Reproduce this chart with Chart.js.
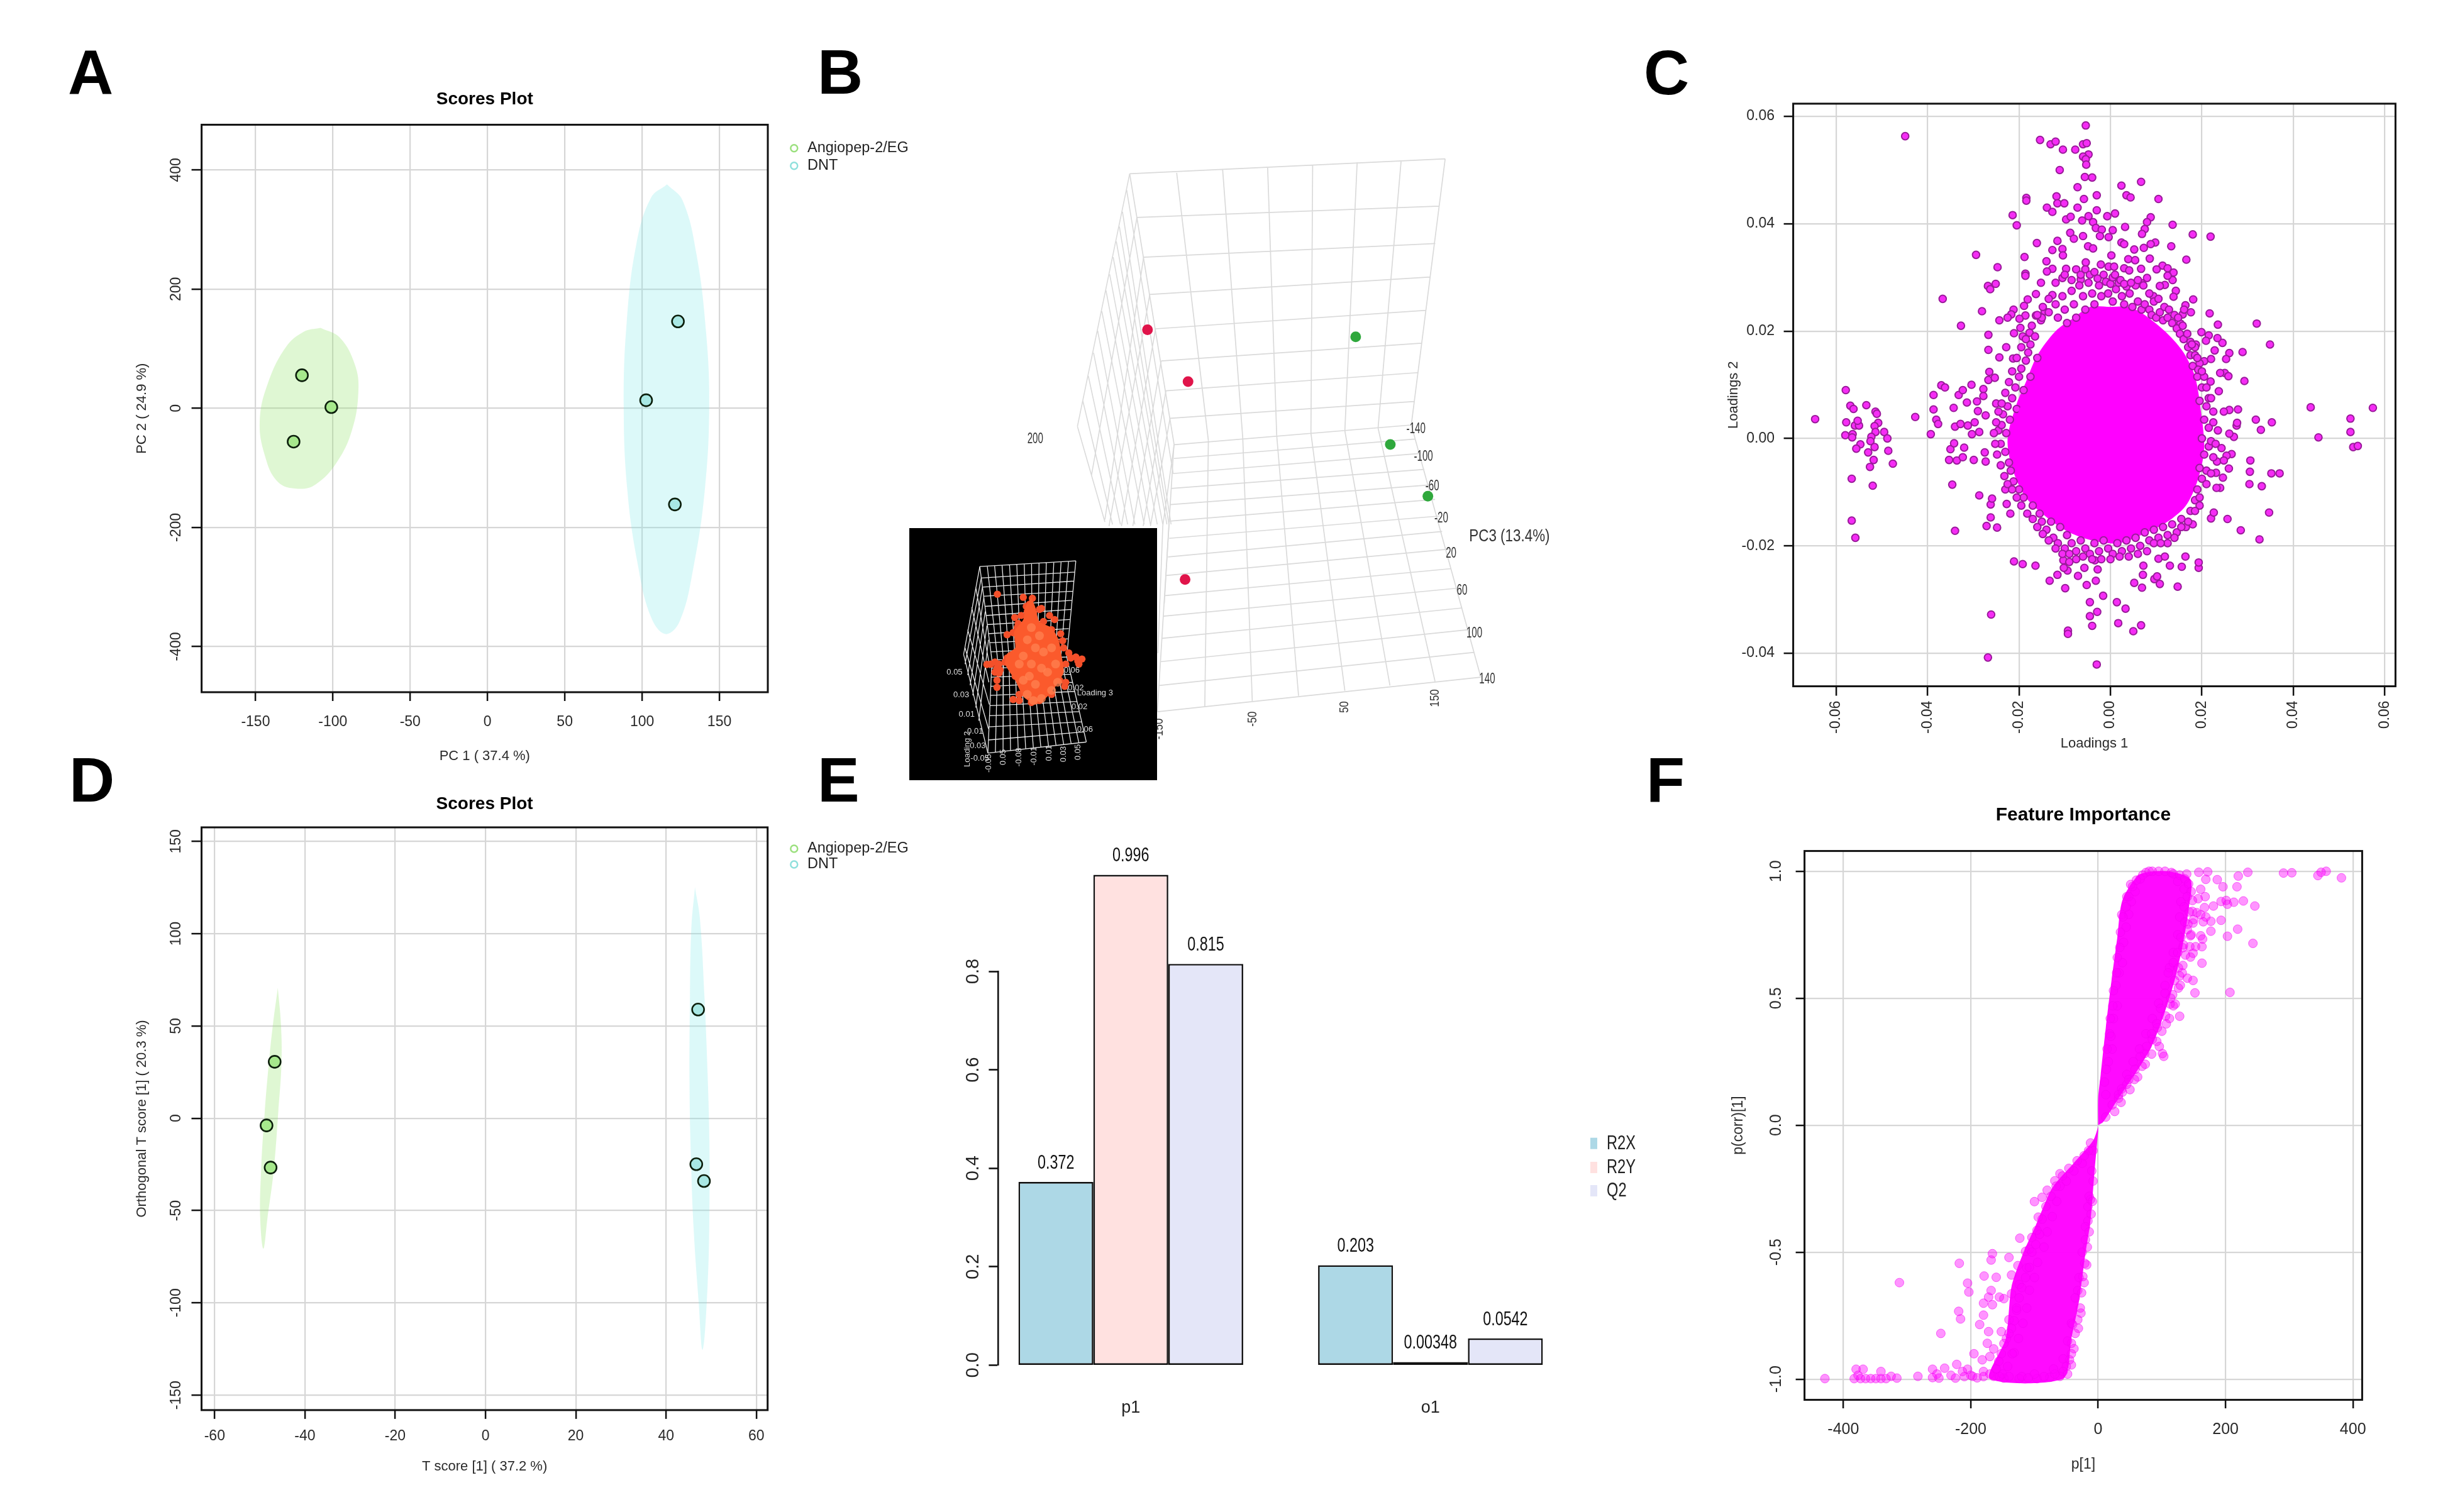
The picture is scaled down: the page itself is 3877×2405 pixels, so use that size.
<!DOCTYPE html>
<html><head><meta charset="utf-8"><title>Panels</title>
<script src="https://cdn.jsdelivr.net/npm/chart.js@4"></script>
<style>
html,body{margin:0;padding:0;background:#fff}
#page{position:relative;width:3877px;height:2405px;overflow:hidden;background:#fff}
canvas{position:absolute}
.letter{position:absolute;font:bold 100px/100px "Liberation Sans",Arial,sans-serif;color:#000}
</style></head><body><div id="page"></div>
<script>
/* ---------- panel A / D : scores ---------- */
const groupNames=['Angiopep-2/EG','DNT'];
const scoresA_green=[[-120,55.4],[-101,2],[-125.4,-56]];
const scoresA_blue=[[123.2,145.8],[102.6,13.5],[121.2,-161.4]];
const regionA_green=[[-108,135.1],[-95.5,118.7],[-85.8,73.5],[-83.5,28.3],[-87.7,-37.4],[-97.5,-90.8],[-111.1,-127.7],[-122.7,-135.1],[-135.6,-123.6],[-144.1,-78.4],[-147.3,-20.9],[-142.2,40.7],[-130.5,102.3],[-118.9,128.5],[-108,135.1]];
const regionA_blue=[[116.1,375.8],[126.2,348.7],[135.2,258.3],[141.4,126.9],[143.4,3.7],[140.6,-135.9],[133.2,-267.4],[124.3,-357.7],[115,-379],[105.6,-349.5],[97,-259.1],[90.4,-135.9],[88.1,3.7],[90,143.3],[96.2,274.7],[105.6,352.8],[116.1,375.8]];
const scoresD_green=[[-46.7,30.6],[-48.5,-3.9],[-47.6,-26.7]];
const scoresD_blue=[[47.1,58.9],[46.7,-24.9],[48.4,-34]];
const regionD_green=[[-46,70.7],[-45.3,50.5],[-45.2,29.6],[-45.9,3.4],[-46.9,-28],[-48.3,-54.2],[-49.2,-70.7],[-49.9,-54.2],[-49.7,-28],[-48.9,3.4],[-48,29.6],[-47.1,50.5],[-46,70.7]];
const regionD_blue=[[46.4,125.1],[47.5,108.1],[48.5,66.2],[49.2,24.3],[49.6,-12.3],[49.6,-51.6],[49.2,-90.8],[48.1,-125.4],[47.2,-98.7],[46.1,-59.4],[45.5,-20.2],[45.2,19.1],[45.3,66.2],[45.6,102.9],[46.4,125.1]];

/* ---------- panel E : model summary ---------- */
const componentNames=['p1','o1'];
const metricNames=['R2X','R2Y','Q2'];
const r2x=[0.372,0.203];
const r2y=[0.996,0.00348];
const q2=[0.815,0.0542];
const valueLabels=[['0.372','0.203'],['0.996','0.00348'],['0.815','0.0542']];

/* ---------- panel C : loadings ---------- */
const loadingsCore=[[.0002,.0215],[.0069,.0205],[.0125,.016],[.0164,.0117],[.0187,.0041],[.0187,-.0026],[.0164,-.0085],[.0125,-.0132],[.0069,-.0161],[.0002,-.0178],[-.0066,-.017],[-.0133,-.0132],[-.0178,-.0102],[-.0206,-.0043],[-.0211,.0016],[-.0189,.0075],[-.0155,.0116],[-.011,.0165],[-.0066,.0195],[.0002,.0215]];
const loadingsBand=[[0,.0245],[.004,.0245],[.0075,.023],[.0125,.0195],[.016,.016],[.0185,.0115],[.0198,.005],[.0205,-.002],[.019,-.008],[.0165,-.0125],[.0125,-.0155],[.008,-.0175],[.002,-.0195],[-.004,-.019],[-.009,-.0175],[-.0135,-.015],[-.0185,-.011],[-.0215,-.0055],[-.0225,0],[-.0205,.0065],[-.0185,.0105],[-.016,.0155],[-.012,.02],[-.008,.0225],[-.0045,.0245],[0,.0245]];
const loadingsLeft=[[-.0646,.0036],[-.0579,.009],[-.0569,.0061],[-.0562,.0055],[-.0578,.003],[-.058,.0006],[-.0564,.0008],[-.0565,.0002],[-.0559,.0024],[-.055,.0024],[-.0553,.0033],[-.0534,.0062],[-.0514,.005],[-.0511,.0046],[-.0508,.0029],[-.0516,.0023],[-.0514,.0012],[-.0523,.0003],[-.0495,.0012],[-.0488,0],[-.0525,-.0005],[-.0516,-.0016],[-.0547,-.0011],[-.0556,-.0019],[-.053,-.0026],[-.0486,-.0023],[-.0518,-.004],[-.0476,-.0047],[-.0526,-.0053],[-.0566,-.0075],[-.052,-.0088],[-.0566,-.0153],[-.0558,-.0185],[-.0449,.0563],[-.0427,.004],
[-.0393,.0008],[-.0387,.0081],[-.0387,.0054],[-.0381,.0035],[-.0377,.0027],[-.037,.0099],[-.0362,.0095],[-.0343,.0057],[-.034,.0022],[-.035,-.002],[-.0342,-.0009],[-.0353,-.004],[-.0336,-.0041],[-.0346,-.0086],[-.034,-.0172],[-.0332,.0081],[-.0323,.009],[-.0328,.0027],[-.0314,.0067],[-.0312,.0024],[-.032,-.0017],[-.0323,-.0035],[-.0304,.01],[-.0297,.003],[-.0303,.0008],[-.0292,.0069],[-.029,.0051],[-.0299,-.004],[-.0287,-.0106],[-.0278,.0092],[-.0278,.0079],[-.0273,.0043],[-.0287,.0012],[-.0275,-.0026],[-.0273,-.0043],[-.0267,.0109],[-.0265,.0124],[-.0267,.0165],[-.0267,.0193],[-.0281,.0237],[-.0367,.026],[-.0327,.021],[-.0294,.0342],[-.0247,.0319],[-.0268,.0284],[-.0263,.0278],[-.0251,.0288],[-.0243,.022],[-.0228,.017],[-.0243,.0151],[-.0253,.0113],[-.025,.0065],[-.0213,.0149],[-.0262,-.0147],[-.0271,-.0163],[-.0248,-.0166],[-.0262,-.0123],[-.0259,-.0112],[-.0261,-.0328],[-.0268,-.0408],[-.0227,-.0122],[-.0219,-.014],[-.023,-.0095]];
const loadingsBottom=[[-.0211,-.0229],[-.0192,-.0234],[-.0164,-.0237],[-.0133,-.0265],[-.0116,-.0254],[-.0099,-.0279],[-.0093,-.0358],[-.0093,-.0364],[-.003,-.0421],[-.0045,-.0305],[-.0045,-.0331],[-.0029,-.0323],[-.004,-.0349],[-.0016,-.0293],[.0014,-.0305],[.0033,-.0317],[.0017,-.0344],[.005,-.0359],[.0067,-.0348],[-.0071,-.0256],[-.0052,-.0273],[-.0032,-.0265],[-.0057,-.0241],[-.0034,-.0227],[-.0028,-.0244],[-.0094,-.0246],[-.0103,-.0227],[-.009,-.023],[-.0102,-.0241],[.0052,-.0269],[.0069,-.0278],[.0071,-.0254],[.0096,-.0262],[.0108,-.0271],[.0102,-.0257],[.0147,-.0276],[.0072,-.0237],[.013,-.0237],[.0105,-.0224],[.0119,-.022],[.0156,-.0239],[.0164,-.022],[.0193,-.0241],[.0193,-.0231]];
const loadingsRight=[[.022,-.0149],[.0226,-.0138],[.0256,-.015],[.0285,-.0171],[.0326,-.0188],[.0347,-.0138],[.0304,-.0085],[.0331,-.0089],[.0352,-.0065],[.037,-.0065],[.0305,-.0062],[.0306,-.0041],[.0265,-.0029],[.0254,-.0032],[.0259,-.0056],[.0246,-.0073],[.0231,-.0064],[.024,-.0092],[.0232,-.0092],[.0233,-.0043],[.0248,-.0041],[.0243,-.0018],[.027,.0003],[.026,.0009],[.0276,.0024],[.0277,.0029],[.0318,.0035],[.0329,.0016],[.0353,.003],[.0279,.0054],[.026,.0053],[.0248,.005],[.0293,.0107],[.0289,.0161],[.026,.0159],[.0253,.0148],[.0349,.0175],[.032,.0214],[.025,.0122],[.024,.0122],[.0258,.0116],[.0237,.0088],[.0245,.0178],[.0234,.0187],[.0228,.0164],[.0235,.0212],[.0217,.0233],[.0215,.0192],[.0199,.0198],[.0209,.0182],[.0205,.0144],[.022,.0148],[.0219,.0106],[.0438,.0058],[.0455,.0002],[.0525,.0037],[.0525,.0012],[.0531,-.0016],[.0541,-.0014],[.0574,.0057]];
const loadingsTop=[[-.0054,.0583],[-.0154,.0556],[-.0131,.0548],[-.012,.0553],[-.0104,.0538],[-.0077,.0538],[-.006,.0548],[-.0052,.055],[-.0048,.0529],[-.006,.0525],[-.0054,.052],[-.0053,.051],[-.0111,.05],[-.0056,.0487],[-.004,.0486],[-.0072,.0468],[.0024,.0471],[.0067,.0478],[.0035,.0453],[.0044,.0449],[-.003,.0453],[-.0058,.0446],[-.0118,.0451],[.0105,.0446],[-.0184,.0448],[-.0184,.0443],[-.0116,.0438],[-.0101,.0438],[-.0139,.043],[-.0127,.0422],[-.0072,.043],[-.003,.0425],[-.0007,.0414],[.001,.0419],[.0088,.0412],[.008,.0403],[-.0214,.0416],[-.0205,.0397],[-.0097,.0408],[-.0087,.0413],[-.0062,.0406],[-.0048,.0414],[-.0038,.0403],[.0136,.0398],[.0032,.0394],[-.0032,.0392],[-.0019,.0389],[.0005,.0388],[.0075,.039],[.0069,.0381],[.018,.038],[.0219,.0376],[-.0023,.0377],[-.0004,.0375],[-.006,.0377],[-.0088,.0383],[-.0116,.0368],[-.008,.0372],[.0024,.0365],[.003,.0362],[-.0161,.0364],[.0098,.0365],[.0088,.0362],[.0073,.0355],[.0133,.0358],[.0052,.0352],[-.0049,.0358],[-.0127,.0351],[-.0105,.0353],[-.0038,.0354],[-.0188,.0338],[-.014,.033],[-.0104,.0341],[.0002,.0341],[.0086,.0335],[.0166,.0333],[.0039,.0334],[.0054,.0332],[-.0054,.0328],[-.0021,.0324],[-.0004,.032],[.0008,.032],[.0114,.0322],[.0125,.0317],[.003,.0317],[.0041,.0313],[.0067,.0316],[.0101,.0315],[-.0097,.0316],[-.0127,.0316],[-.0139,.0311],[-.0186,.0307],[-.0186,.0303],[.0138,.0309],[.0136,.0295],[.0125,.0303],[.0119,.0286],[.0108,.0284],[.0143,.0275],[.0138,.0264],[-.0152,.029],[-.0105,.0299],[-.0065,.0296],[-.0163,.0269],[.008,.0299],[.0069,.0289],[.0181,.0259],[-.0127,.0267],[.0094,.0265],[-.0181,.0259],[-.0189,.0247],[-.0212,.024],[-.0217,.0231],[-.0225,.0225],[-.0186,.0229],[-.0163,.0229],[-.0199,.0223],[-.0152,.022],[-.0144,.0237],[-.0197,.0206],[-.0211,.0196],[-.0192,.019],[-.0177,.0197],[.0164,.0248],[.0158,.0231],[.0176,.0235],[.0161,.024],[.0153,.0214],[.0175,.018],[.0187,.0175]];
const loadingsRim=[[-.015,.0225],[-.0135,.0235],[-.012,.025],[-.0115,.0225],[-.0105,.0265],[-.01,.024],[-.0095,.0215],[-.0085,.0275],[-.008,.025],[-.0075,.0225],[-.0068,.0285],[-.006,.0265],[-.0055,.024],[-.0048,.029],[-.004,.027],[-.0035,.025],[-.0025,.0285],[-.002,.0265],[-.001,.0292],[-.0005,.027],[0,.0288],[.0005,.0255],[.0012,.0278],[.0018,.029],[.0025,.0265],[.003,.025],[.0035,.0283],[.0042,.027],[.0048,.0245],[.0055,.0285],[.006,.0255],[.0068,.024],[.0075,.025],[.0085,.024],[.009,.023],[.01,.0225],[.0108,.0235],[.0115,.022],[.0125,.0225],[.0135,.0215],[.0145,.0205],[.0152,.0195],[.016,.0185],[.017,.017],
[-.0245,.0015],[-.024,-.001],[-.0238,.0025],[-.0235,.0045],[-.023,-.0025],[-.0228,.001],[-.0225,.006],[-.0222,-.0045],[-.022,.0035],[-.0218,-.006],[-.0215,.0075],[-.0212,-.008],[-.0208,.0095],[-.0205,.0055],[-.02,-.0095],[-.02,.0115],[-.0195,.013],[-.019,.009],[-.019,-.011],[-.0185,.0145],[-.018,.016],[-.0175,.0115],[-.0175,.0175],[-.017,-.0125],[-.0165,.019],[-.016,.015],[-.0155,-.014],
[-.015,-.0155],[-.014,-.017],[-.013,-.0155],[-.0125,-.0185],[-.0115,-.0195],[-.011,-.0165],[-.01,-.0205],[-.0095,-.018],[-.0085,-.0195],[-.0075,-.021],[-.0065,-.019],[-.0055,-.0205],[-.0045,-.0215],[-.0035,-.0195],[-.0025,-.021],[-.0015,-.019],[-.0005,-.0205],[.0005,-.0215],[.0015,-.0195],[.0025,-.021],[.0035,-.019],[.0045,-.0205],[.0055,-.0185],[.0065,-.02],[.0075,-.0175],[.0085,-.019],[.0095,-.017],[.0105,-.0185],[.0115,-.0165],[.0125,-.0195],[.0135,-.016],[.0145,-.0175],[.0155,-.015],[.0165,-.0165],[.0175,-.0135],[.018,-.016],[.0185,-.0115],[.0195,-.0125],
[.019,-.0095],[.02,-.0075],[.0195,-.0055],[.021,-.006],[.0205,-.003],[.0215,-.0015],[.02,0],[.022,-.0005],[.0215,.002],[.0205,.0035],[.0225,.003],[.021,.006],[.0195,.007],[.0215,.0075],[.02,.0095],[.019,.0115],[.0205,.0115],[.018,.0135],[.0195,.014],[.0175,.0155],[.0185,.017],
[-.012,.029],[-.01,.0305],[-.0085,.0295],[-.0075,.0315],[-.0065,.0305],[-.0055,.0315],[-.0045,.0305],[-.0035,.031],[-.0028,.0298],[-.0015,.0305],[.0005,.03],[.001,.0305],[.0022,.0295],[.003,.0288],[.0045,.029],[.006,.0295],[.0072,.0285],[.0085,.027],[.0095,.0255],[.0105,.026],[.0118,.0245],[.0128,.024],[.014,.023],[.0148,.0225],[.0158,.021],[.0168,.0195],[.0178,.0175],[.0185,.0155],[.0192,.0128],
[-.0135,.026],[-.0148,.0245],[-.016,.023],[-.0172,.021],[-.0185,.0185],[-.0195,.017],[-.0205,.015],[-.0215,.0125],[-.0222,.0105],[-.023,.0085],[-.0238,.0065],[-.0245,.005],[-.025,.003],[-.0255,.001],[-.0252,-.001],[-.0248,-.003],[-.024,-.005],[-.0232,-.007],[-.0225,-.0085],[-.0215,-.0095],[-.0205,-.011],[-.0195,-.0125],[-.0182,-.014],[-.017,-.015],[-.016,-.0165],[-.0148,-.0178],[-.0135,-.019],[-.012,-.0205],[-.0105,-.0215],[-.009,-.0215],[-.0075,-.0225],[-.006,-.022],[-.004,-.0225],[-.002,-.0225],[0,-.0225],[.002,-.022],[.004,-.022],[.006,-.0215],[.008,-.021],[.0095,-.0195],[.011,-.0195],[.0125,-.018],[.014,-.0185],[.0155,-.0165],[.017,-.0155],[.0185,-.0135],[.0195,-.011],[.021,-.0085],[.022,-.0065],[.0225,-.0035],[.023,-.001],[.0235,.0015],[.0225,.005],[.022,.0075],[.021,.0095],[.02,.0125],[.019,.015]];

/* ---------- panel F : feature importance ---------- */
const importanceCoreUp=[[0,0],[0,.106],[4,.199],[12,.384],[21,.57],[30,.737],[38,.885],[65,.987],[109,1],[145,.968],[142,.848],[132,.699],[120,.57],[104,.44],[84,.31],[62,.217],[32,.106],[8,.013],[0,0]];
const importanceCoreDown=[[0,-.006],[-8,-.061],[-40,-.154],[-72,-.247],[-98,-.395],[-118,-.506],[-136,-.636],[-145,-.84],[-170,-.998],[-55,-.998],[-42,-.84],[-30,-.692],[-20,-.506],[-12,-.377],[-6,-.191],[0,-.024],[0,-.006]];
const importanceLow=[[-429,-.998],[-383,-.998],[-377,-.985],[-380,-.961],[-369,-.961],[-373,-.998],[-365,-.998],[-357,-.998],[-349,-.998],[-341,-.998],[-333,-.998],[-341,-.97],[-325,-.989],[-316,-.996],[-283,-.989],[-260,-.961],[-260,-.994],[-253,-.98],[-250,-.996],[-241,-.957],[-231,-.985],[-224,-.996],[-222,-.942],[-213,-.97],[-205,-.961],[-197,-.989],[-180,-.97],[-164,-.989],[-148,-.996],[-124,-.998],[-96,-.998],[-76,-.993],[-60,-.989],
[-312,-.62],[-247,-.82],[-218,-.544],[-205,-.622],[-203,-.657],[-219,-.733],[-216,-.763],[-186,-.785],[-195,-.9],[-182,-.924],[-180,-.748],[-180,-.701],[-172,-.677],[-168,-.651],[-179,-.594],[-160,-.599],[-168,-.531],[-166,-.506],[-140,-.521],[-123,-.445],[-100,-.301],[-94,-.362],[-166,-.707],[-155,-.677],[-148,-.683],[-136,-.664],[-172,-.813],[-152,-.813],[-174,-.859],[-164,-.881],[-170,-.911],[-136,-.59],[-126,-.553],[-114,-.497],[-108,-.488],[-88,-.284],[-80,-.256],[-68,-.219],[-60,-.191],[-128,-.729],[-140,-.766],[-144,-.84],[-132,-.896],[-124,-.627],[-112,-.562],[-104,-.442],[-96,-.414],
[-16,-.377],[-20,-.451],[-21,-.544],[-24,-.596],[-32,-.651],[-28,-.72],[-32,-.766],[-40,-.785],[-42,-.859],[-45,-.924],[-42,-.944],[-68,-.98],[-12,-.293],[-16,-.321],
[-8,-.1],[-15,-.1],[-25,-.15],[-38,-.18],[-50,-.22],[-60,-.24],[-65,-.3],[-72,-.36],[-80,-.42],[-85,-.48],[-95,-.54],[-100,-.6],[-108,-.65],[-112,-.72],[-118,-.78],[-125,-.84],[-135,-.9],[-142,-.95],[-150,-.98],[-120,-.99],[-100,-.98],[-70,-.96],[-55,-.92],[-48,-.85],[-42,-.78],[-36,-.68],[-30,-.6],[-25,-.5],[-20,-.4],[-14,-.28],[-10,-.18],
[-12,-.07],[-22,-.12],[-33,-.14],[-46,-.17],[-56,-.2],[-66,-.24],[-74,-.28],[-82,-.32],[-88,-.37],[-92,-.43],[-98,-.47],[-104,-.5],[-108,-.56],[-114,-.6],[-120,-.64],[-124,-.68],[-128,-.72],[-132,-.77],[-136,-.8],[-140,-.82],[-148,-.86],[-152,-.9],[-156,-.93],[-160,-.96],[-170,-.98],[-180,-.99],[-190,-.995],[-200,-.985],[-210,-.99],[-155,-.99],[-140,-.99],[-110,-.995],[-85,-.99],
[-8,-.22],[-9,-.3],[-11,-.35],[-14,-.42],[-17,-.48],[-18,-.55],[-22,-.62],[-26,-.66],[-27,-.74],[-31,-.8],[-36,-.82],[-38,-.88],[-42,-.9],[-50,-.95],[-55,-.97],[-48,-.98]];
const importanceHigh=[[382,.974],[358,1],[350,.996],[345,.983],[304,.994],[291,.993],[235,.996],[220,.981],[172,.998],[158,.996],[169,.968],[139,.989],[187,.967],[196,.939],[218,.939],[161,.929],[168,.9],[157,.892],[181,.863],[193,.881],[201,.885],[213,.878],[228,.883],[203,.87],[246,.863],[167,.857],[148,.842],[155,.837],[161,.829],[169,.82],[193,.807],[177,.803],[165,.801],[149,.796],[177,.764],[219,.772],[203,.744],[243,.716],[141,.792],[161,.746],[164,.733],[145,.746],[153,.703],[144,.703],[163,.703],[133,.699],[145,.662],[163,.638],[133,.629],[149,.677],[128,.588],[140,.579],[149,.57],[129,.551],[152,.521],[207,.523],[117,.514],[121,.477],[113,.477],[128,.429],[107,.399],[93,.384],[101,.282],[103,.271],[85,.338],[69,.232],[73,.282],[57,.18],[45,.161],[37,.143],[26,.054],[32,.106],[12,.032],[51,.948],[45,.9],[37,.829],
[12,.12],[16,.25],[22,.3],[18,.36],[24,.42],[30,.47],[28,.55],[33,.6],[38,.64],[40,.72],[44,.78],[48,.83],[52,.88],[58,.92],[66,.97],[75,.995],[85,1],[95,1],[105,1],[115,.995],[125,.96],[135,.93],[130,.88],[128,.82],[125,.75],[118,.68],[112,.62],[105,.55],[95,.48],[85,.42],[75,.36],[65,.3],[55,.25],[45,.2],[32,.12],[22,.08],
[118,.99],[128,.985],[136,.97],[142,.95],[146,.92],[140,.9],[148,.885],[135,.86],[143,.84],[150,.81],[136,.8],[140,.77],[146,.75],[130,.74],[134,.71],[125,.68],[137,.67],[118,.64],[126,.62],[132,.6],[110,.6],[120,.57],[126,.54],[105,.52],[114,.5],[118,.47],[98,.46],[106,.43],[112,.42],[92,.4],[100,.37],[84,.36],[92,.33],[96,.31],[76,.31],[84,.28],[66,.27],[74,.24],[58,.22],[62,.19],[48,.18],[50,.14],[38,.13],[36,.09],
[10,.17],[13,.22],[14,.3],[20,.35],[19,.42],[23,.47],[24,.53],[29,.6],[30,.66],[34,.7],[35,.76],[39,.82],[44,.86],[48,.9],[54,.94],[60,.965],[70,.985],[80,1]];

/* ---------- panel B : 3-D scores, as projected on the picture plane ---------- */
const scores3dRed=[[682,651],[764,755],[758,1152]];
const scores3dGreen=[[1103,665],[1173,881],[1249,985]];
const wall3d=[[646,338,1284,308],[660.7,425.6,1272,403],[674.1,505.3,1264,478],[686.6,580.1,1254,545],[698.3,649,1245,612],[709.6,713.5,1236,678],[719.2,773.5,1228,737],[727.6,828.6,1221,795],[735.9,881.7,1215.5,842],
[646,338,735.9,881.7],[741,336,805.1,873.2],[834,330,874.7,869],[925,326,943.3,862.8],[1016,320,1012.5,858.6],[1106,315,1081.1,853.7],[1195,311,1148.3,848.3],[1284,308,1215.5,842]];
const floor3d=[[735.5,881.4,701.9,1417.4],[805.1,873.2,797.9,1406.2],[874.7,869,893.9,1395.8],[943.3,862.8,987.5,1385.4],[1012.5,858.6,1081.1,1375.1],[1081.1,853.7,1172.3,1364.7],[1148.3,848.3,1263.5,1356.4],[1215.5,842,1356.1,1348.1],
[735.5,909.2,1222.7,870.2],[733.1,939.5,1231.3,899.3],[730.7,969.4,1241.9,931.2],[728.3,1001.7,1252.5,962.3],[727.3,1034.9,1263.5,991.4],[725.9,1069.4,1273.1,1024.6],[723.5,1106.7,1277.9,1055.7],[719.7,1144,1292.3,1090.9],[717.7,1184.3,1295.7,1130.3],[713.9,1225.7,1306.7,1169.7],[711.5,1270.1,1318.7,1209.1],[708.1,1317,1330.7,1252.7],[705.3,1364.7,1342.7,1298.3],[701.9,1417.4,1356.1,1348.1]];
const side3d=[[646,338,540.3,844.8],[540.3,844.8,595.9,1036.7],[551.1,793.2,611.3,1041.6],[562.4,744,627.2,1041.6],[572.9,697.2,641.9,1041.6],[581.2,652.9,656.5,1041.6],[589.6,613.6,675.3,1041.6],[598,571.8,687.9,1041.6],[605.5,539.8,701.7,1041.6],[612.6,505.3,712.9,1041.6],[618.9,473.4,721.3,1041.6],[625.1,443.8,725.5,1041.6],[631.4,414.3,729.7,1041.6],[639.8,370,733.8,938.3],
[660.7,425.6,568.7,943.2],[674.1,505.3,595.9,1031.8],[686.6,580.1,604.2,1045],[698.3,649,629.3,1045],[709.6,713.5,652.3,1045],[719.2,773.5,673.2,1045],[727.6,828.6,687.9,1045],[735.9,881.7,712.9,1045],[712.9,1045,703,1300],[725.5,1041.6,716,1200]];
const tickNames3d=['200','-140','-100','-60','-20','20','60','100','140'];
const tickAt3d=[[455,871],[1225,851],[1240,906],[1258,965],[1276,1029],[1296,1100],[1318,1175],[1343,1260],[1369,1352]];
const titleName3d=['PC3 (13.4%)'];
const titleAt3d=[[1414,1066]];
const tickNames3dRot=['-150','-50','50','150'];
const tickAt3dRot=[[706,1452],[895,1432],[1081,1408],[1264,1390]];

/* ---------- inset : 3-D loadings ---------- */
const insetWall=[[345,198,820,170],[352,255,815,225],[358,300,810,270],[363,345,805,320],[369,395,800,365],[375,440,795,410],[380,485,790,460],[386,530,785,505],[392,575,780,555],[398,620,778,600],[405,660,775,645],
[345,198,405,660],[382,196,433,659],[418,194,462,658],[455,192,490,657],[492,190,519,656],[528,188,547,655],[565,186,576,654],[601,184,604,653],[638,182,632,652],[674,180,661,650],[711,177,689,649],[747,175,718,648],[784,173,746,647],[820,170,775,645]];
const insetFloor=[[405,660,385,1120],[433,659,422,1116],[462,658,460,1112],[490,657,497,1108],[519,656,535,1103],[547,655,572,1099],[576,654,610,1095],[604,653,647,1091],[632,652,685,1086],[661,650,722,1082],[689,649,760,1078],[718,648,797,1074],[746,647,835,1069],[775,645,872,1065],
[403,700,785,690],[401,745,795,730],[399,790,805,770],[397,835,815,815],[395,885,825,865],[393,935,838,915],[390,990,850,965],[388,1055,860,1015],[385,1120,872,1065]];
const insetSide=[[345,198,265,632],[265,632,385,1120],[352,255,272,680],[358,300,285,735],[365,350,297,785],[372,420,310,835],[380,490,325,895],[388,560,340,960],[325,300,395,700],[305,400,390,770],[285,510,392,880],[272,600,388,1000]];
const insetCore=[[600,350],[620,400],[640,470],[700,500],[735,560],[750,640],[760,720],[720,790],[680,840],[620,880],[560,840],[520,760],[470,680],[480,630],[520,600],[515,520],[560,460],[570,400],[600,350]];
const insetOuter=[[432,335],[560,350],[605,355],[590,385],[575,395],[650,405],[640,410],[518,450],[690,440],[715,460],[480,535],[510,525],[535,480],[550,440],[580,420],[610,430],[660,470],[700,510],[755,565],[785,625],[795,650],[820,645],[830,665],[850,655],[835,680],[770,770],[765,790],[430,760],[430,795],[380,682],[400,680],[420,670],[440,680],[430,700],[445,710],[420,720],[440,725],[510,855],[540,830],[540,860],[480,650],[495,640],[470,670],[745,530],[760,600],[770,680],[740,760],[700,830],[640,860],[600,870],[560,800],[520,740],[540,560],[500,640],[530,500],[655,500],[720,620]];
const insetInner=[[600,500],[640,540],[580,560],[620,600],[560,640],[540,680],[600,680],[660,620],[700,600],[650,700],[590,740],[620,780],[560,760],[680,720],[720,680],[610,860],[650,850],[580,830],[700,810],[730,770]];
const insetNames=['0.05','0.03','0.01','0.01','0.03','-0.05','Loading 3','0.06','0.02','0.02','0.06'];
const insetAt=[[220,720],[253,833],[280,930],[322,1012],[335,1083],[345,1145],[915,823],[800,713],[820,797],[838,893],[865,1005]];
const insetNamesRot=['Loading 2','-0.05','0.05','-0.08','-0.01','0.01','0.03','0.05'];
const insetAtRot=[[283,1100],[388,1170],[462,1140],[538,1140],[612,1135],[688,1120],[760,1125],[832,1115]];

/* ---------- shared styling ---------- */
const SANS='"Liberation Sans",Arial,sans-serif';
const GRID='#d6d6d6', MAGENTA='#ff00ff', RING='#9a1a9a';
const page=document.getElementById('page');
[['A',108,150],['B',1300,149],['C',2614,150],['D',110,1275],['E',1300,1275],['F',2618,1275]].forEach(([t,x,b])=>{
  const d=document.createElement('div');d.className='letter';d.textContent=t;d.style.left=x+'px';d.style.top=(b-85)+'px';page.appendChild(d);
});
const xy=a=>a.map(p=>({x:p[0],y:p[1]}));
const segs=a=>{const o=[];a.forEach(s=>o.push({x:s[0],y:s[1]},{x:s[2],y:s[3]},{x:null,y:null}));return o;};

const framePlugin={id:'frame',afterDatasetsDraw(c){const a=c.chartArea,x=c.ctx;x.save();x.strokeStyle='#111';x.lineWidth=3;x.strokeRect(a.left,a.top,a.right-a.left,a.bottom-a.top);x.restore();}};
function ringLegend(rows,colors,rx,tx){return {id:'ringLegend',afterDraw(c){const x=c.ctx;x.save();x.font='23.5px '+SANS;x.fillStyle='#222';x.textBaseline='middle';
  groupNames.forEach((n,i)=>{x.beginPath();x.arc(rx,rows[i],5.5,0,7);x.strokeStyle=colors[i];x.lineWidth=2.5;x.stroke();x.fillText(n,tx,rows[i]);});x.restore();}};}
let lblId=0;
function labelPlugin(names,at,rot,font,color,squeeze){return {id:'lbl'+(lblId++),afterDatasetsDraw(c){const x=c.ctx,sx=c.scales.x,sy=c.scales.y;x.save();x.font=font;x.fillStyle=color;x.textAlign='center';x.textBaseline='middle';
  names.forEach((n,i)=>{x.save();x.translate(sx.getPixelForValue(at[i][0]),sy.getPixelForValue(at[i][1]));if(rot)x.rotate(-Math.PI/2);x.scale(squeeze||1,1);x.fillText(n,0,0);x.restore();});x.restore();}};}

/* rect = canvas box on the page; area = wanted plot box on the page */
function addChart(rect,area,cfg){
  const cv=document.createElement('canvas');cv.width=rect.w;cv.height=rect.h;
  cv.style.left=rect.x+'px';cv.style.top=rect.y+'px';cv.style.width=rect.w+'px';cv.style.height=rect.h+'px';page.appendChild(cv);
  const o=cfg.options=cfg.options||{};
  o.responsive=false;o.animation=false;o.devicePixelRatio=1;
  o.layout={padding:{left:0,right:rect.x+rect.w-area.r,top:0,bottom:0}};
  o.plugins=Object.assign({legend:{display:false},tooltip:{enabled:false}},o.plugins||{});
  if(cfg.titleText){const f=cfg.titleSize,lh=f*1.2,top=cfg.titleCY-rect.y-lh/2;
    o.plugins.title={display:true,text:cfg.titleText,fullSize:false,color:'#000',font:{family:SANS,size:f,weight:'bold'},padding:{top,bottom:area.t-rect.y-top-lh}};
  } else o.layout.padding.top=area.t-rect.y;
  if(o.scales&&o.scales.y&&o.scales.y.display!==false) o.scales.y.afterFit=s=>{s.width=area.l-rect.x;};
  else o.layout.padding.left=area.l-rect.x;
  if(o.scales&&o.scales.x&&o.scales.x.display!==false) o.scales.x.afterFit=s=>{s.height=rect.y+rect.h-area.b;};
  else o.layout.padding.bottom=rect.y+rect.h-area.b;
  return new Chart(cv.getContext('2d'),cfg);
}
function linAxis(min,max,step,font,tl,pad,extra){return {type:'linear',min,max,
  grid:{color:GRID,lineWidth:2.2,tickColor:'#111',tickWidth:2.5,tickLength:tl},border:{display:false},
  ticks:Object.assign({stepSize:step,includeBounds:false,color:'#2a2a2a',font:{family:SANS,size:font},padding:pad,autoSkip:false},extra&&extra.ticks||{}),
  title:extra&&extra.title};}
const rotY={minRotation:90,maxRotation:90,crossAlign:'center'};
const rotX={minRotation:90,maxRotation:90};
function axisTitle(text,size,pad,key){return {display:true,text,color:'#2a2a2a',font:{family:SANS,size},padding:{[key]:pad}};}
const fmt1=v=>v.toFixed(1), fmt2=v=>v.toFixed(2);
const region=(data,color)=>({data:xy(data),showLine:true,fill:'shape',backgroundColor:color,borderWidth:0,pointRadius:0,tension:.4,order:5});
const scorePts=(data,color)=>({data:xy(data),pointRadius:9.5,pointBorderWidth:2.6,pointBorderColor:'#0c1f0c',pointBackgroundColor:color,order:1});

/* A */
addChart({x:200,y:100,w:1290,h:1125},{l:320.6,r:1221,t:198.4,b:1101},{type:'scatter',titleText:'Scores Plot',titleSize:28,titleCY:158,
 data:{datasets:[scorePts(scoresA_green,'#a6e88c'),scorePts(scoresA_blue,'#a8e8e4'),region(regionA_green,'rgba(150,230,110,.30)'),region(regionA_blue,'rgba(130,235,235,.28)')]},
 options:{scales:{
  x:linAxis(-184.9,181.3,50,23,14,20,{title:axisTitle('PC 1 ( 37.4 %)',22,8.8,'bottom')}),
  y:linAxis(-476.6,476,200,23,16,.6,{ticks:rotY,title:axisTitle('PC 2 ( 24.9 %)',22,12.6,'top')})}},
 plugins:[framePlugin,ringLegend([135.8,163.8],['#9be07e','#8fe0dc'],1262.8-200,1284-200)]});

/* D */
addChart({x:200,y:1250,w:1290,h:1110},{l:320.5,r:1220.7,t:1316,b:2242.9},{type:'scatter',titleText:'Scores Plot',titleSize:28,titleCY:1279,
 data:{datasets:[scorePts(scoresD_green,'#a6e88c'),scorePts(scoresD_blue,'#a8e8e4'),region(regionD_green,'rgba(150,230,110,.30)'),region(regionD_blue,'rgba(130,235,235,.28)')]},
 options:{scales:{
  x:linAxis(-62.9,62.5,20,23,14,14,{title:axisTitle('T score [1] ( 37.2 %)',22,14,'bottom')}),
  y:linAxis(-158.1,157.6,50,23,16,.5,{ticks:rotY,title:axisTitle('Orthogonal T score [1] ( 20.3 %)',22,12.6,'top')})}},
 plugins:[framePlugin,ringLegend([1349.9-1250,1375-1250],['#9be07e','#8fe0dc'],1262.8-200,1284-200)]});

/* C */
const cPts=d=>({data:xy(d),pointRadius:5.8,pointBorderWidth:2,pointBorderColor:RING,pointBackgroundColor:'#f52cf5',order:2});
const cSolid=(d,ord)=>({data:xy(d),showLine:true,fill:'shape',backgroundColor:MAGENTA,borderWidth:0,pointRadius:0,tension:.3,order:ord});
addChart({x:2720,y:130,w:1120,h:1080},{l:2851.6,r:3809.4,t:164.9,b:1091.6},{type:'scatter',
 data:{datasets:[cSolid(loadingsCore,0),cSolid(loadingsBand,9),
  cPts(loadingsRim),cPts(loadingsLeft),cPts(loadingsBottom),cPts(loadingsRight),cPts(loadingsTop)]},
 options:{scales:{
  x:linAxis(-.0694,.06235,.02,23,15,8,{ticks:Object.assign({callback:fmt2},rotX),title:axisTitle('Loadings 1',22,14,'bottom')}),
  y:linAxis(-.04616,.06236,.02,23,15,14.6,{ticks:{callback:fmt2},title:axisTitle('Loadings 2',22,24,'top')})}},
 plugins:[framePlugin]});

/* F */
const fPts=d=>({data:xy(d),pointRadius:7,pointBorderWidth:1,pointBorderColor:'rgba(240,0,240,.55)',pointBackgroundColor:'rgba(255,0,255,.42)',order:1});
const fCore=d=>({data:xy(d),showLine:true,fill:'shape',backgroundColor:'rgba(255,0,255,.96)',borderWidth:0,pointRadius:0,tension:.25,order:2});
addChart({x:2730,y:1260,w:1100,h:1100},{l:2869.6,r:3756.4,t:1353.6,b:2226.6},{type:'scatter',titleText:'Feature Importance',titleSize:30,titleCY:1297,
 data:{datasets:[fPts(importanceLow),fPts(importanceHigh),fCore(importanceCoreUp),fCore(importanceCoreDown)]},
 options:{scales:{
  x:linAxis(-461,414.5,200,25,13.5,19,{title:axisTitle('p[1]',23,17,'bottom')}),
  y:linAxis(-1.0816,1.0798,.5,25,14,9,{ticks:Object.assign({callback:fmt1},rotY),title:axisTitle('p(corr)[1]',23,21,'top')})}},
 plugins:[framePlugin]});

/* E */
const barSets=[[r2x,'#add8e6'],[r2y,'#ffe1e0'],[q2,'#e4e6f8']].map(([v,c],k)=>({label:metricNames[k],data:v.map((y,i)=>({x:i,y})),backgroundColor:c,borderColor:'#111',borderWidth:2.6,borderSkipped:false,clip:false,minBarLength:5,barPercentage:1,categoryPercentage:.75}));
const barLabels={id:'barLabels',afterDatasetsDraw(c){const x=c.ctx;x.save();x.font='32px '+SANS;x.fillStyle='#111';x.textAlign='center';x.textBaseline='middle';
  barSets.forEach((d,k)=>c.getDatasetMeta(k).data.forEach((b,i)=>{x.save();x.translate(b.x,b.y-30);x.scale(.73,1);x.fillText(valueLabels[k][i],0,0);x.restore();}));x.restore();}};
const barLegend={id:'barLegend',afterDraw(c){const x=c.ctx;x.save();x.font='32px '+SANS;x.textBaseline='middle';
  [1818.7,1857,1894].forEach((py,i)=>{x.fillStyle=barSets[i].backgroundColor;x.fillRect(2529-1500,py-1300-9,11,18);x.fillStyle='#222';x.save();x.translate(2555-1500,py-1300);x.scale(.74,1);x.fillText(metricNames[i],0,0);x.restore();});x.restore();}};
addChart({x:1500,y:1300,w:1150,h:1000},{l:1587.4,r:2513,t:1545,b:2171.4},{type:'bar',
 data:{datasets:barSets},
 options:{scales:{
  x:{type:'linear',min:-.4426,max:1.5,offset:false,grid:{display:false,drawTicks:false},border:{display:false},
     ticks:{stepSize:1,includeBounds:false,padding:52,color:'#222',font:{family:SANS,size:27},callback:v=>componentNames[v]||''}},
  y:{type:'linear',min:0,max:.8,grid:{drawOnChartArea:false,tickColor:'#111',tickWidth:2.6,tickLength:15},border:{display:true,color:'#111',width:2.6},
     ticks:Object.assign({stepSize:.2,color:'#222',font:{family:SANS,size:29},padding:4.6,callback:fmt1},rotY)}}},
 plugins:[barLabels,barLegend]});

/* B */
const hidden=(min,max,rev)=>({type:'linear',display:false,min,max,reverse:!!rev});
const wireSet=(d,color,w)=>({data:segs(d),showLine:true,spanGaps:false,borderColor:color,borderWidth:w,pointRadius:0,fill:false,order:6});
addChart({x:1280,y:0,w:1250,h:1260},{l:1280,r:2530,t:0,b:1260},{type:'scatter',
 data:{datasets:[
  {data:xy(scores3dRed),pointRadius:8.5,pointBorderWidth:0,pointBackgroundColor:'#e0144a',order:1},
  {data:xy(scores3dGreen),pointRadius:8.5,pointBorderWidth:0,pointBackgroundColor:'#2fa83c',order:1},
  wireSet(wall3d,'#dadada',1.7),wireSet(floor3d,'#dadada',1.7),wireSet(side3d,'#dadada',1.6)]},
 options:{scales:{x:hidden(0,1568),y:hidden(0,1568,true)}},
 plugins:[labelPlugin(tickNames3d,tickAt3d,false,'23px '+SANS,'#333',.66),labelPlugin(titleName3d,titleAt3d,false,'28px '+SANS,'#333',.8),labelPlugin(tickNames3dRot,tickAt3dRot,true,'21px '+SANS,'#333',.8)]});

/* inset */
const blackBg={id:'blackBg',beforeDraw(c){c.ctx.save();c.ctx.fillStyle='#000';c.ctx.fillRect(0,0,c.width,c.height);c.ctx.restore();}};
addChart({x:1446,y:840,w:394,h:401},{l:1446,r:1840,t:840,b:1241},{type:'scatter',
 data:{datasets:[
  {data:xy(insetInner),pointRadius:7,pointBorderWidth:0,pointBackgroundColor:'rgba(255,130,80,.75)',order:0},
  {data:xy(insetCore),showLine:true,fill:'shape',backgroundColor:'#fb5a2c',borderWidth:0,pointRadius:0,tension:.2,order:1},
  {data:xy(insetOuter),pointRadius:5.8,pointBorderWidth:0,pointBackgroundColor:'#f4502a',order:2},
  wireSet(insetWall,'#e8e8e8',1.3),wireSet(insetFloor,'#e8e8e8',1.3),wireSet(insetSide,'#e8e8e8',1.3)]},
 options:{scales:{x:hidden(18,1200),y:hidden(30,1232,true)}},
 plugins:[blackBg,labelPlugin(insetNames,insetAt,false,'13px '+SANS,'#ddd'),labelPlugin(insetNamesRot,insetAtRot,true,'13px '+SANS,'#ddd')]});
</script></body></html>
